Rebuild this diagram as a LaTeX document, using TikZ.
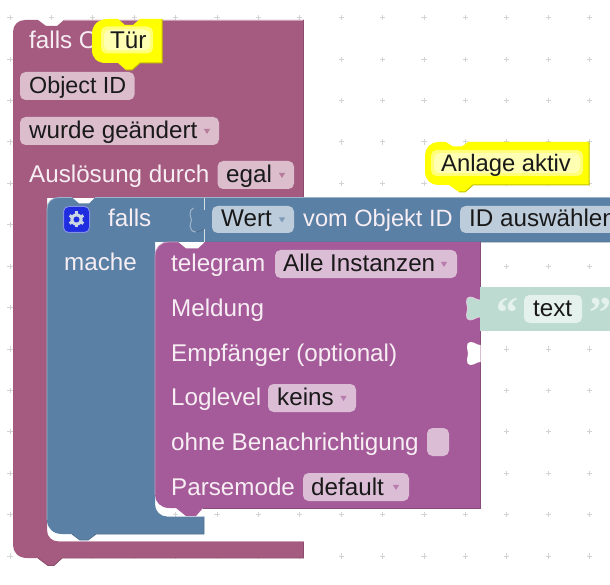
\documentclass[tikz,border=0pt]{standalone}
\usepackage{fontspec}
\setmainfont{Liberation Sans}
\newfontfamily\quotefont{Liberation Serif}
\definecolor{outerc}{HTML}{A55B80}
\definecolor{bluec}{HTML}{5B80A5}
\definecolor{telec}{HTML}{A55B99}
\definecolor{textc}{HTML}{BEDBD2}
\definecolor{fldouter}{HTML}{DBBDCC}
\definecolor{fldblue}{HTML}{BDCCDB}
\definecolor{fldtele}{HTML}{DBBDD6}
\definecolor{fldtext}{HTML}{E5F1ED}
\definecolor{lbl}{HTML}{F7EEF4}
\definecolor{dot}{HTML}{D4D4D4}
\definecolor{yell}{HTML}{FFFF00}
\definecolor{yellin}{HTML}{FFFF78}
\definecolor{yellcore}{HTML}{FFFFB4}
\definecolor{yelldark}{HTML}{C4C400}
\tikzset{
  fld/.style={inner sep=0pt,rounded corners=5.5pt,draw=none},
  wlabel/.style={anchor=base west,inner sep=0pt,text=lbl,font=\fontsize{24.2}{28}\selectfont},
  blabel/.style={anchor=base west,inner sep=0pt,text=black!90,font=\fontsize{24.2}{28}\selectfont},
  tight/.style={font=\fontsize{#1}{28}\selectfont},
  qlabel/.style={anchor=base west,inner sep=0pt,text=fldtext,font=\quotefont\bfseries\fontsize{44}{50}\selectfont}
}
\newcommand{\fieldbox}[6]{\node[fld,fill=#6,minimum width={(#4)-(#2)},minimum height={(#5)-(#3)}] (#1) at ({((#2)+(#4))/2},{((#3)+(#5))/2}) {};}
\newcommand{\lab}[5]{\node[#1] (#2) at (#3,#4) {#5};}
\newcommand{\dropdown}[3]{\fill[#3] (#1-3.2,#2-2.2) -- (#1+3.2,#2-2.2) -- (#1,#2+3) -- cycle;}
\newcommand{\tabshape}{(0,3) .. controls (-4,3) and (-6,0) .. (-10,0) .. controls (-13,0) and (-13.5,2) .. (-13.5,5) .. controls (-13.5,8) and (-12.5,9) .. (-12.5,11.5) .. controls (-12.5,14) and (-13.5,15) .. (-13.5,18) .. controls (-13.5,21) and (-13,23) .. (-10,23) .. controls (-6,23) and (-4,20) .. (0,20)}
\begin{document}
\begin{tikzpicture}[x=1pt,y=-1pt]
\path[use as bounding box] (0,0) rectangle (610,585);
\clip (0,0) rectangle (610,585);
\fill[white] (0,0) rectangle (610,585);
% grid
\foreach \i in {0,...,14}{\foreach \j in {0,...,13}{
  \pgfmathsetmacro{\gx}{10+41.4*\i}\pgfmathsetmacro{\gy}{17.8+41.4*\j}
  \draw[dot,line width=1pt] (\gx-2.6,\gy) -- (\gx+2.6,\gy) (\gx,\gy-2.6) -- (\gx,\gy+2.6);
}}
% outer trigger block
\fill[outerc] (13,32) .. controls (13,25) and (18,20) .. (25,20) -- (38,20) -- (46,26) -- (57,26) -- (64,20) -- (303.5,20) -- (303.5,198) -- (47,198) -- (47,530) .. controls (47,537) and (52,541.5) .. (59,541.5) -- (303.5,541.5) -- (303.5,558) -- (62,558) -- (54,565.5) -- (48,565.5) -- (38,558) -- (27,558) .. controls (18,558) and (13,552) .. (13,545) -- cycle;
\draw[outerc!85!black,line width=.9pt] (303.5,20) -- (303.5,198) (303.5,541.5) -- (303.5,558) -- (62,558) -- (54,565.5) -- (48,565.5) -- (38,558);
\draw[outerc!60!white,line width=.8pt] (64,20) -- (303,20) (59,541.5) -- (303,541.5);
% blue block
\fill[bluec] (47,209) .. controls (47,202) and (52,197.5) .. (59,197.5) -- (72,197.5) -- (79,203.5) -- (89,203.5) -- (95,197.5) -- (620,197.5) -- (620,242) -- (204,242) -- (155,242) -- (155,504) .. controls (155,511) and (160,516.5) .. (167,516.5) -- (204,516.5) -- (204,534) -- (96,534) -- (88,540) -- (80,540) -- (72,534) -- (62,534) .. controls (53,534) and (47,528) .. (47,520) -- cycle;
\draw[bluec!60!white,line width=.8pt] (47,520) -- (47,209) .. controls (47,202) and (52,197.5) .. (59,197.5) -- (72,197.5) (95,197.5) -- (610,197.5);
\draw[bluec!88!black,line width=.9pt] (204,516.5) -- (204,534) -- (96,534) -- (88,540) -- (80,540) -- (72,534) (204,242) -- (620,242);
% value socket in the blue block
\draw[bluec!58!white,line width=1pt] (193.5,208) .. controls (191,209) and (190,211) .. (190,214) .. controls (190,217) and (191.5,218) .. (191.5,220) .. controls (191.5,222) and (190,223) .. (190,226) .. controls (190,229) and (192,232) .. (196,232);
\draw[bluec!84!black,line width=.8pt] (196,232) .. controls (199,232) and (201,230) .. (204,229);
\draw[white!75!bluec,line width=.9pt] (204,198) -- (204,210) (204,229) -- (204,242);
% telegram block
\fill[telec] (155,256) .. controls (155,248) and (161,242) .. (168,242) -- (178,242) -- (186,248.5) -- (198,248.5) -- (205,242) -- (480,242) -- (480,508) -- (203,508) -- (196,516) -- (186,516) -- (176,508) -- (169,508) .. controls (161,508) and (155,502) .. (155,495) -- cycle;
\draw[telec!82!black,line width=.9pt] (480,242) -- (480,508) -- (203,508);
\draw[telec!62!white,line width=.8pt] (155,495) -- (155,256) .. controls (155,248) and (161,242) .. (168,242) -- (178,242);
% text value block with left tab
\fill[textc] (480,287) -- (620,287) -- (620,331) -- (480,331) -- cycle;
\begin{scope}[shift={(480,297)}]
\fill[textc] \tabshape -- cycle;
\draw[white!70!telec,line width=.7pt] \tabshape;
\end{scope}
% free input socket
\begin{scope}[shift={(480.5,342)}]
\fill[white] \tabshape -- cycle;
\end{scope}
% fields
\fieldbox{fObj}{20}{72}{134.5}{100}{fldouter}
\fieldbox{fWurde}{20}{117}{219}{145}{fldouter}
\fieldbox{fEgal}{217.5}{161}{294}{189}{fldouter}
\fieldbox{fWert}{212}{206}{294}{233}{fldblue}
\fieldbox{fId}{460}{206}{640}{233}{fldblue}
\fieldbox{fAlle}{275}{250}{457}{278}{fldtele}
\fieldbox{fKeins}{268}{384}{356}{412}{fldtele}
\fieldbox{fCheck}{427}{428}{449}{456}{fldtele}
\fieldbox{fDefault}{303}{473}{409}{501}{fldtele}
\fieldbox{fText}{524}{295}{582}{323}{fldtext}
% dropdown arrows
\dropdown{207}{131}{outerc!65!fldouter}
\dropdown{282}{175}{outerc!65!fldouter}
\dropdown{282}{219.5}{bluec!65!fldblue}
\dropdown{444}{264}{telec!65!fldtele}
\dropdown{343.5}{398}{telec!65!fldtele}
\dropdown{396}{487}{telec!65!fldtele}
% gear button
\node[draw=fldblue!70!blue,line width=1pt,fill=blue!62!bluec!90!blue,rounded corners=5pt,minimum width=26pt,minimum height=26pt,inner sep=0pt] (gearbtn) at (76.5,219.5) {};
\foreach \a in {0,60,...,300}{
  \draw[fldblue!80!white,line width=3pt] (76.5,219.5) -- ++(\a+30:8);
}
\fill[fldblue!80!white] (76.5,219.5) circle[radius=6.2];
\fill[blue!62!bluec!90!blue] (76.5,219.5) circle[radius=3];
% labels
\lab{wlabel}{tFalls}{29}{49}{falls O}
\lab{blabel,tight=23.3}{tObj}{29}{94}{Object ID}
\lab{blabel}{tWurde}{29}{139}{wurde geändert}
\lab{wlabel}{tAus}{29}{183}{Auslösung durch}
\lab{blabel}{tEgal}{226}{183}{egal}
\lab{wlabel}{tFalls2}{108}{227}{falls}
\lab{blabel}{tWert}{221}{227}{Wert}
\lab{wlabel,tight=23.6}{tVom}{303}{227}{vom Objekt ID}
\lab{blabel}{tId}{469}{227}{ID auswählen}
\lab{wlabel}{tMache}{64}{270}{mache}
\lab{wlabel}{tTele}{171}{272}{telegram}
\lab{blabel}{tAlle}{283}{272}{Alle Instanzen}
\lab{wlabel}{tMeld}{171}{316}{Meldung}
\lab{blabel}{tText}{533}{316}{text}
\lab{wlabel}{tEmpf}{171}{361}{Empfänger (optional)}
\lab{wlabel}{tLog}{171}{405}{Loglevel}
\lab{blabel}{tKeins}{277}{405}{keins}
\lab{wlabel}{tOhne}{171}{450}{ohne Benachrichtigung}
\lab{wlabel}{tParse}{171}{495}{Parsemode}
\lab{blabel}{tDefault}{311}{495}{default}
\lab{qlabel}{qOpen}{496}{327}{“}
\lab{qlabel}{qClose}{589}{327}{”}
% comment Tuer
\fill[yell] (92,34) .. controls (92,25) and (98,19) .. (108,19) -- (118,19) -- (125,25) -- (133,25) -- (140,19) -- (162,19) -- (162,63) -- (140,63) -- (132,70) -- (126,70) -- (118,63) -- (106,63) .. controls (97,63) and (92,58) .. (92,50) -- cycle;
\draw[yelldark,line width=1pt] (162,19) -- (162,63) -- (140,63) -- (132,70) -- (126,70);
\node[fld,fill=yellin,minimum width=52pt,minimum height=27pt] (cTurBack) at (127,40) {};
\node[fld,fill=yellcore,minimum width=46pt,minimum height=21pt] (cTurCore) at (127,40) {};
\lab{blabel}{tTur}{110}{49}{Tür}
% comment Anlage
\fill[yell] (425,155) .. controls (425,148) and (431,142) .. (438,142) -- (446,142) -- (453,146.5) -- (462,146.5) -- (468,142) -- (589,142) -- (589,185) -- (473,185) -- (465,192) -- (459,192) -- (449,185) -- (438,185) .. controls (431,185) and (425,180) .. (425,172) -- cycle;
\draw[yelldark,line width=1pt] (589,142) -- (589,185) -- (473,185) -- (465,192) -- (459,192);
\node[fld,fill=yellin,minimum width=152pt,minimum height=26pt] (cAnlBack) at (507,163) {};
\node[fld,fill=yellcore,minimum width=146pt,minimum height=20pt] (cAnlCore) at (507,163) {};
\lab{blabel,tight=23.8}{tAnl}{441}{172}{Anlage aktiv}
\end{tikzpicture}
\end{document}
